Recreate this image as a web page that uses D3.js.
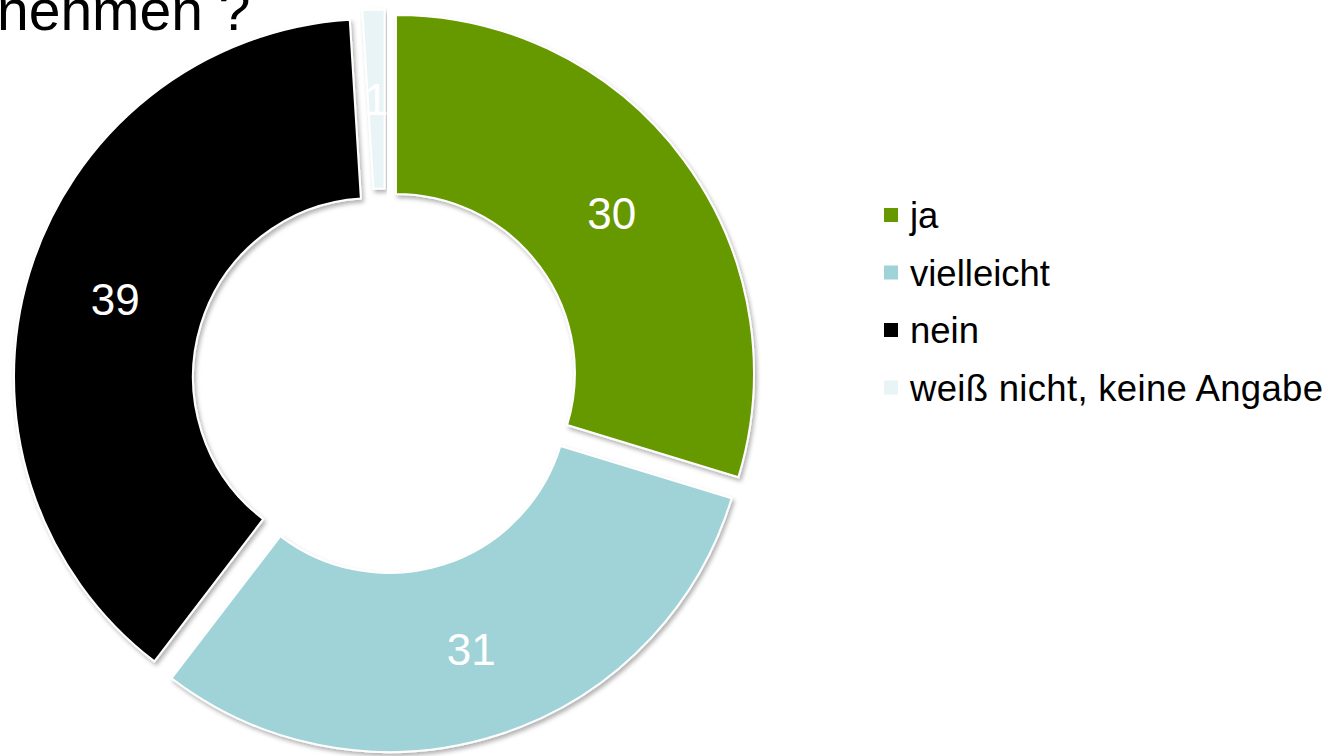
<!DOCTYPE html>
<html>
<head>
<meta charset="utf-8">
<script src="https://cdn.jsdelivr.net/npm/d3@7"></script>
<style>
  body { margin: 0; background: #fff; }
  svg { display: block; font-family: "Liberation Sans", Arial, sans-serif; }
</style>
</head>
<body>
<div id="chart"></div>
<script>
document.addEventListener('DOMContentLoaded', function () {
    let width = 1333;
    let height = 756;

    // data
    let categories = ['ja', 'vielleicht', 'nein', 'weiß nicht, keine Angabe'];
    let values = [30, 31, 39, 1];
    let colors = ['#669900', '#a0d3d8', '#000000', '#e8f4f6'];
    let titleText = 'nehmen ?';

    let svg = d3.select('#chart').append('svg')
        .attr('width', width)
        .attr('height', height);

    let defs = svg.append('defs');
    defs.append('filter')
        .attr('id', 'shadow')
        .attr('x', '-10%').attr('y', '-10%')
        .attr('width', '120%').attr('height', '120%')
        .append('feDropShadow')
        .attr('dx', 2).attr('dy', 3)
        .attr('stdDeviation', 2)
        .attr('flood-color', '#000')
        .attr('flood-opacity', 0.3);

    // title, cut by the top of the picture like in the original slide
    svg.append('text')
        .attr('x', -3)
        .attr('y', 30)
        .attr('font-size', 57)
        .attr('fill', '#000')
        .text(titleText);

    let cx = 385, cy = 381;
    let outerR = 358, innerR = 179;
    let explode = 13.6;

    let pie = d3.pie().sort(null).value(d => d.value);
    let arcs = pie(categories.map((c, i) => ({ name: c, value: values[i], color: colors[i] })));

    let arc = d3.arc().innerRadius(innerR).outerRadius(outerR);
    let labelArc = d3.arc().innerRadius((innerR + outerR) / 2).outerRadius((innerR + outerR) / 2);

    let g = svg.append('g').attr('transform', `translate(${cx},${cy})`);

    let slices = g.selectAll('g.slice')
        .data(arcs)
        .enter().append('g')
        .attr('class', 'slice')
        .attr('transform', d => {
            let a = (d.startAngle + d.endAngle) / 2;
            return `translate(${Math.sin(a) * explode},${-Math.cos(a) * explode})`;
        });

    slices.append('path')
        .attr('d', arc)
        .attr('fill', d => d.data.color)
        .attr('stroke', '#fff')
        .attr('stroke-width', 2)
        .attr('filter', 'url(#shadow)');

    slices.append('text')
        .attr('transform', d => `translate(${labelArc.centroid(d)})`)
        .attr('text-anchor', 'middle')
        .attr('dy', '0.36em')
        .attr('font-size', 44)
        .attr('fill', '#fff')
        .text(d => d.data.value);

    // legend
    let legend = svg.append('g').attr('transform', 'translate(884,215)');
    let rows = legend.selectAll('g')
        .data(categories)
        .enter().append('g')
        .attr('transform', (d, i) => `translate(0,${i * 57.5})`);

    rows.append('rect')
        .attr('x', 0).attr('y', -7)
        .attr('width', 14).attr('height', 14)
        .attr('fill', (d, i) => colors[i]);

    rows.append('text')
        .attr('x', 26)
        .attr('dy', '0.36em')
        .attr('font-size', 36.5)
        .attr('textLength', d => d === categories[3] ? 413 : null)
        .attr('fill', '#000')
        .text(d => d);
});
</script>
</body>
</html>
